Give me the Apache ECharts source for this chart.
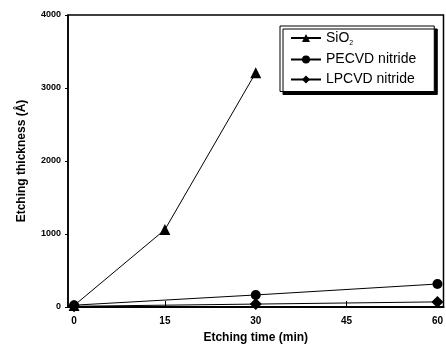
<!DOCTYPE html>
<html><head><meta charset="utf-8">
<script src="https://cdn.jsdelivr.net/npm/echarts@6/dist/echarts.min.js"></script>
<style>html,body{margin:0;padding:0;background:#fff}#c{width:446px;height:349px}</style>
</head><body><div id="c"></div>
<script>
const timeMin = [0, 15, 30, 60];
const sio2 = [[0, 20], [15, 1060], [30, 3210]];
const pecvd = [[0, 25], [30, 165], [60, 315]];
const lpcvd = [[0, 10], [30, 40], [60, 70]];
const seriesNames = ['SiO2', 'PECVD nitride', 'LPCVD nitride'];
const xTicks = [0, 15, 30, 45, 60];
const yTicks = [0, 1000, 2000, 3000, 4000];

const font = 'Liberation Sans, Arial, sans-serif';
const chart = echarts.init(document.getElementById('c'));
const mk = (name, data, symbol, size) => ({
  name, type: 'line', data, symbol, symbolSize: size,
  lineStyle: {color: '#000', width: 1},
  itemStyle: {color: '#000'},
  z: 3
});
chart.setOption({
  animation: false,
  backgroundColor: '#fff',
  grid: {left: 68, right: 1, top: 15, bottom: 41, show: true, borderColor: '#000', borderWidth: 1.5, backgroundColor: 'transparent'},
  xAxis: {
    type: 'value', min: -1, max: 61,
    axisLine: {onZero: false, lineStyle: {color: '#000', width: 2}},
    axisTick: {inside: true, length: 6, customValues: xTicks, lineStyle: {color: '#000'}},
    axisLabel: {customValues: xTicks, color: '#000', fontFamily: font, fontWeight: 'bold', fontSize: 10, margin: 9},
    splitLine: {show: false},
    name: 'Etching time (min)', nameLocation: 'middle', nameGap: 25,
    nameTextStyle: {color: '#000', fontFamily: font, fontWeight: 'bold', fontSize: 12}
  },
  yAxis: {
    type: 'value', min: 0, max: 4000, interval: 1000,
    axisLine: {onZero: false, lineStyle: {color: '#000', width: 1.5}},
    axisTick: {length: 3, lineStyle: {color: '#000'}},
    axisLabel: {color: '#000', fontFamily: font, fontWeight: 'bold', fontSize: 9, margin: 7,
      formatter: v => String(v)},
    splitLine: {show: false},
    name: 'Etching thickness (Å)', nameLocation: 'middle', nameGap: 40,
    nameTextStyle: {color: '#000', fontFamily: font, fontWeight: 'bold', fontSize: 12}
  },
  legend: {
    data: seriesNames,
    orient: 'vertical', left: 280, top: 26,
    itemWidth: 30, itemHeight: 10, itemGap: 6,
    padding: [5, 18, 5, 10],
    backgroundColor: '#fff', borderColor: '#000', borderWidth: 1,
    shadowColor: '#000', shadowBlur: 0, shadowOffsetX: 3, shadowOffsetY: 3,
    textStyle: {color: '#000', fontFamily: font, fontSize: 14,
      rich: {n: {fontSize: 14, fontFamily: font, color: '#000'},
             s: {fontSize: 7, fontFamily: font, color: '#000', padding: [10, 0, 0, 0]}}},
    formatter: n => n === 'SiO2' ? '{n|SiO}{s|2}' : '{n|' + n + '}'
  },
  series: [
    mk(seriesNames[0], sio2, 'triangle', 11),
    mk(seriesNames[1], pecvd, 'circle', 10),
    mk(seriesNames[2], lpcvd, 'diamond', 12)
  ]
});
</script></body></html>
